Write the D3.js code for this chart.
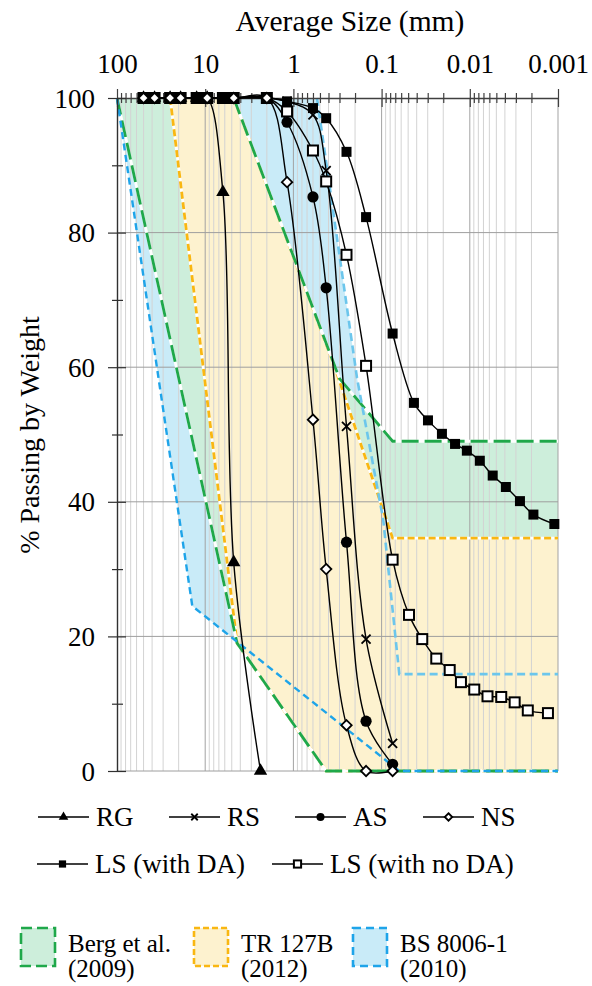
<!DOCTYPE html>
<html>
<head>
<meta charset="utf-8">
<script src="https://cdn.jsdelivr.net/npm/d3@7"></script>
<style>
body{margin:0;background:#fff}
svg{display:block}
svg text{font-family:"Liberation Serif","Tinos","DejaVu Serif",serif !important}
</style>
</head>
<body>
<svg width="592" height="986"></svg>
<script>
"use strict";

// sieve / hydrometer sizes (mm) and % passing
const rgSize = [50, 37.5, 25, 19, 12.5, 9.5, 6.3, 4.75, 2.36];
const rgPass = [100, 100, 100, 100, 100, 100, 86, 31, 0];

const sieveSize = [50, 37.5, 25, 19, 12.5, 9.5, 6.3, 4.75, 2.0, 1.18, 0.6, 0.425, 0.25, 0.15, 0.075];
const rsPass = [100, 100, 100, 100, 100, 100, 100, 100, 100, 99.5, 97.5, 89.2, 51.2, 19.6, 4.1];
const asPass = [100, 100, 100, 100, 100, 100, 100, 100, 100, 96.4, 85.3, 71.8, 34, 7.4, 1];

const nsSize = [50, 37.5, 25, 19, 9.5, 4.75, 2.0, 1.18, 0.6, 0.425, 0.25, 0.15, 0.075];
const nsPass = [100, 100, 100, 100, 100, 100, 100, 87.5, 52.2, 30, 6.8, 0, 0];

const lsdaSize = sieveSize.concat([0.043, 0.0298, 0.0207, 0.0147, 0.0108, 0.0077, 0.0055, 0.0039, 0.0027, 0.0019, 0.0011]);
const lsdaPass = [100, 100, 100, 100, 100, 100, 100, 100, 100, 99.5, 98.5, 97, 92, 82.3, 65,
                  54.7, 52.1, 50.1, 48.6, 47.6, 46.1, 43.9, 42.2, 40.1, 38.1, 36.7];

const lsndaSize = sieveSize.concat([0.0489, 0.0346, 0.024, 0.0169, 0.0126, 0.0089, 0.0063, 0.0044, 0.0031, 0.0022, 0.0013]);
const lsndaPass = [100, 100, 100, 100, 100, 100, 100, 100, 100, 98, 92.2, 87.6, 76.7, 60.2, 31.4,
                   23.2, 19.6, 16.7, 15, 13.2, 12.1, 11.1, 11, 10.2, 9, 8.6];

// grading envelopes [size, %passing]
const bergCoarse = [[100, 100], [4.35, 19], [0.425, 0], [0.001, 0]];
const bergFine = [[4.75, 100], [0.3, 58.3], [0.075, 49], [0.001, 49]];
const trCoarse = [[25, 100], [4.35, 19], [0.425, 0], [0.001, 0]];
const trFine = [[4.75, 100], [0.35, 60.5], [0.075, 34.6], [0.001, 34.6]];
const bsCoarse = [[100, 100], [14, 24.5], [0.063, 0], [0.001, 0]];
const bsFine = [[0.54, 100], [0.19, 58.4], [0.096, 37.4], [0.063, 14.4], [0.001, 14.4]];

// axis ticks
const decades = [100, 10, 1, 0.1, 0.01, 0.001];
const decadeLabels = ["100", "10", "1", "0.1", "0.01", "0.001"];
const yTicks = [0, 20, 40, 60, 80, 100];
const yMinor = [10, 30, 50, 70, 90];

const svg = d3.select("svg");
const x = d3.scaleLog().domain([100, 0.001]).range([117, 558]);
const y = d3.scaleLinear().domain([0, 100]).range([771, 98]);

var minors = [];
for (const d of [100, 10, 1, 0.1, 0.01]) {
    for (let k = 2; k <= 9; k++) minors.push(+(k * d / 10).toPrecision(6));
}

const colGreen = "#1fa84a", colYellow = "#f9b712", colBlue = "#1ea4e9", colBlueLt = "#6cc6ec";
const fillGreen = "#cdeedb", fillYellow = "#fdf2cf", fillBlue = "#c9ebf8";

//envelope fills, blue at the bottom, yellow on top
const area = d3.line().x(d => x(d[0])).y(d => y(d[1]));
const gFill = svg.append("g");
function envFill(coarse, fine, col) {
    gFill.append("path")
        .attr("d", area(coarse.concat(fine.slice().reverse())) + "Z")
        .attr("fill", col);
}
envFill(bsCoarse, bsFine, fillBlue);
envFill(bergCoarse, bergFine, fillGreen);
envFill(trCoarse, trFine, fillYellow);

//gridlines
const grid = svg.append("g");
grid.selectAll(".vmin").data(minors).join("line")
    .attr("x1", d => x(d)).attr("x2", d => x(d))
    .attr("y1", y(100)).attr("y2", y(0))
    .attr("stroke", "#d3d3d3").attr("stroke-width", 1);
grid.selectAll(".vmaj").data(decades.slice(1)).join("line")
    .attr("x1", d => x(d)).attr("x2", d => x(d))
    .attr("y1", y(100)).attr("y2", y(0))
    .attr("stroke", "#a3a3a3").attr("stroke-width", 1);
grid.selectAll(".h").data([0, 20, 40, 60, 80]).join("line")
    .attr("x1", x(100)).attr("x2", x(0.001))
    .attr("y1", d => y(d)).attr("y2", d => y(d))
    .attr("stroke", "#9e9e9e").attr("stroke-width", 1);

//envelope boundaries
const gBound = svg.append("g").attr("fill", "none");
function bound(pts, col, dash, w, under) {
    const p = area(pts);
    if (under) gBound.append("path").attr("d", p).attr("stroke", "#fff").attr("stroke-width", w);
    gBound.append("path").attr("d", p).attr("stroke", col)
        .attr("stroke-width", w).attr("stroke-dasharray", dash);
}
bound(trCoarse, colYellow, "7,3.5", 2.8, true);
bound(trFine, colYellow, "7,3.5", 2.8, true);
bound(bergCoarse, colGreen, "17,6", 2.8, true);
bound(bergFine, colGreen, "17,6", 2.8, true);
bound(bsCoarse, colBlue, "7,4.5", 2.4, false);
bound(bsFine, colBlueLt, "8,4.5", 2.6, false);

//axes
const gTop = svg.append("g").attr("transform", "translate(0," + y(100) + ")")
    .call(d3.axisTop(x).tickValues(decades.concat(minors)).tickSizeOuter(0)
        .tickFormat(d => {
            const i = decades.indexOf(d);
            return i >= 0 ? decadeLabels[i] : "";
        }));
gTop.select(".domain").attr("stroke", "#404040").attr("stroke-width", 1.3);
gTop.selectAll(".tick line")
    .attr("stroke", "#404040").attr("stroke-width", 1.2)
    .attr("y1", d => decades.includes(d) ? 9 : 5)
    .attr("y2", d => decades.includes(d) ? -9 : -5);
gTop.selectAll(".tick text")
    .attr("y", -25).attr("dy", 0)
    .attr("font-size", 27).attr("fill", "#000");

const gLeft = svg.append("g").attr("transform", "translate(" + x(100) + ",0)")
    .call(d3.axisLeft(y).tickValues(yTicks.concat(yMinor)).tickSizeOuter(0)
        .tickFormat(d => yTicks.includes(d) ? String(d) : ""));
gLeft.select(".domain").attr("stroke", "#303030").attr("stroke-width", 1.4);
gLeft.selectAll(".tick line")
    .attr("stroke", "#303030").attr("stroke-width", 1.2)
    .attr("x1", d => yTicks.includes(d) ? 9 : 6)
    .attr("x2", d => yTicks.includes(d) ? -9 : -5);
gLeft.selectAll(".tick text")
    .attr("x", -22).attr("dy", "0.34em")
    .attr("font-size", 27).attr("fill", "#000");

svg.append("text").attr("x", 350).attr("y", 31).attr("text-anchor", "middle")
    .attr("font-size", 29.5).text("Average Size (mm)");
svg.append("text").attr("transform", "translate(39,435) rotate(-90)")
    .attr("text-anchor", "middle").attr("font-size", 28).text("% Passing by Weight");

//markers
function marker(g, type, s) {
    if (type == "tri") {
        g.append("path").attr("d", d3.symbol(d3.symbolTriangle, 78 * s * s)()).attr("fill", "#000");
    } else if (type == "x") {
        const a = 4.5 * s;
        g.append("path").attr("d", `M${-a},${-a}L${a},${a}M${-a},${a}L${a},${-a}`)
            .attr("stroke", "#000").attr("stroke-width", 1.8).attr("fill", "none");
    } else if (type == "circ") {
        g.append("circle").attr("r", 5.6 * s).attr("fill", "#000");
    } else if (type == "dia") {
        const a = 5.2 * s;
        g.append("path").attr("d", `M0,${-a}L${a},0L0,${a}L${-a},0Z`)
            .attr("fill", "#fff").attr("stroke", "#000").attr("stroke-width", 1.8);
    } else if (type == "sqf") {
        const a = 5 * s;
        g.append("rect").attr("x", -a).attr("y", -a).attr("width", 2 * a).attr("height", 2 * a).attr("fill", "#000");
    } else if (type == "sqo") {
        const a = 5 * s;
        g.append("rect").attr("x", -a).attr("y", -a).attr("width", 2 * a).attr("height", 2 * a)
            .attr("fill", "#fff").attr("stroke", "#000").attr("stroke-width", 2);
    }
}

const series = [
    {name: "RG", size: rgSize, pass: rgPass, mark: "tri"},
    {name: "RS", size: sieveSize, pass: rsPass, mark: "x"},
    {name: "AS", size: sieveSize, pass: asPass, mark: "circ"},
    {name: "LS (with no DA)", size: lsndaSize, pass: lsndaPass, mark: "sqo"},
    {name: "LS (with DA)", size: lsdaSize, pass: lsdaPass, mark: "sqf"},
    {name: "NS", size: nsSize, pass: nsPass, mark: "dia"}
];

const smooth = d3.line().x(d => x(d[0])).y(d => y(d[1])).curve(d3.curveCatmullRom.alpha(0.5));
const gData = svg.append("g");
for (const s of series) {
    const pts = s.size.map((d, i) => [d, s.pass[i]]);
    s.pts = pts;
    gData.append("path").attr("d", smooth(pts)).attr("fill", "none")
        .attr("stroke", "#000").attr("stroke-width", 1.4);
}
for (const s of series) {
    for (const p of s.pts) {
        const g = gData.append("g").attr("transform", `translate(${x(p[0])},${y(p[1])})`);
        marker(g, s.mark, 1);
    }
}

//legend: series
const legendSeries = [
    {name: "RG", mark: "tri", x0: 38, row: 0},
    {name: "RS", mark: "x", x0: 169, row: 0},
    {name: "AS", mark: "circ", x0: 295, row: 0},
    {name: "NS", mark: "dia", x0: 423, row: 0},
    {name: "LS (with DA)", mark: "sqf", x0: 37, row: 1},
    {name: "LS (with no DA)", mark: "sqo", x0: 272, row: 1}
];
const rowLine = [817, 864], rowBase = [826, 873];
for (const l of legendSeries) {
    const ly = rowLine[l.row];
    svg.append("line").attr("x1", l.x0).attr("x2", l.x0 + 51).attr("y1", ly).attr("y2", ly)
        .attr("stroke", "#000").attr("stroke-width", 1.4);
    marker(svg.append("g").attr("transform", `translate(${l.x0 + 25.5},${ly})`), l.mark, 0.72);
    svg.append("text").attr("x", l.x0 + 58).attr("y", rowBase[l.row])
        .attr("font-size", 27).text(l.name);
}

//legend: envelopes
const legendEnv = [
    {l1: "Berg et al.", l2: "(2009)", fill: fillGreen, col: colGreen, dash: "11,5", x0: 21},
    {l1: "TR 127B", l2: "(2012)", fill: fillYellow, col: colYellow, dash: "6,3", x0: 194},
    {l1: "BS 8006-1", l2: "(2010)", fill: fillBlue, col: colBlue, dash: "8,5", x0: 353}
];
for (const e of legendEnv) {
    svg.append("rect").attr("x", e.x0).attr("y", 928).attr("width", 34).attr("height", 38)
        .attr("fill", e.fill).attr("stroke", e.col).attr("stroke-width", 2.6)
        .attr("stroke-dasharray", e.dash);
    svg.append("text").attr("x", e.x0 + 47).attr("y", 952).attr("font-size", 25).text(e.l1);
    svg.append("text").attr("x", e.x0 + 47).attr("y", 977).attr("font-size", 25).text(e.l2);
}
</script>
</body>
</html>
